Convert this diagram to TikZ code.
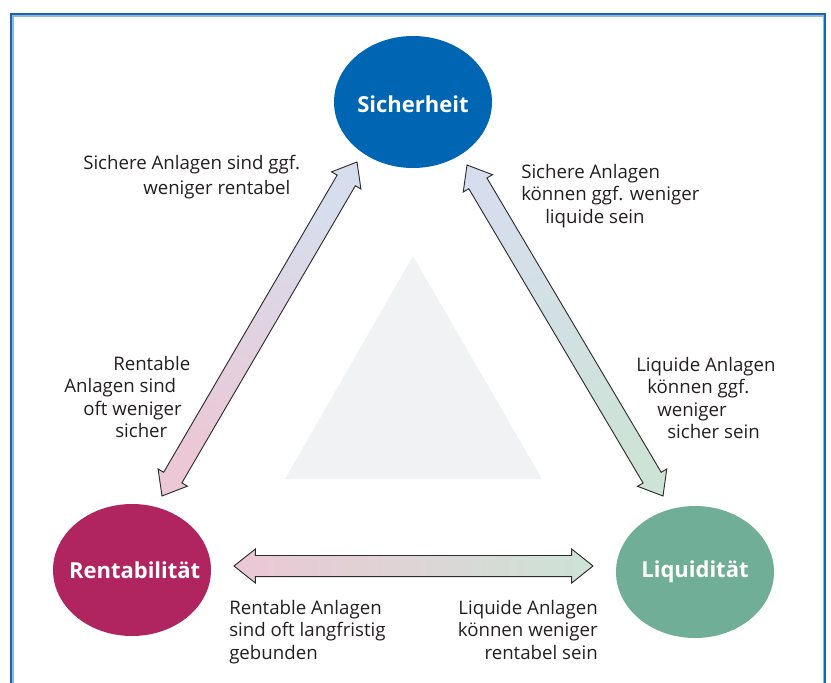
\documentclass[tikz,border=0pt]{standalone}
\usepackage{fontspec}
\setmainfont{Open Sans}
\usetikzlibrary{shapes.geometric,calc}
\definecolor{sichblue}{RGB}{0,102,179}
\definecolor{rentred}{RGB}{176,36,96}
\definecolor{liqgreen}{RGB}{112,174,152}
\definecolor{apink}{RGB}{236,199,213}
\definecolor{ablue}{RGB}{214,222,237}
\definecolor{agreen}{RGB}{205,227,214}
\definecolor{trigrey}{RGB}{241,242,244}
\definecolor{framedark}{RGB}{30,100,170}
\definecolor{framelight}{RGB}{140,185,228}
\definecolor{textgrey}{RGB}{35,31,32}
\definecolor{arrowline}{RGB}{45,45,45}
\newcommand{\arrHL}{16pt}
\newcommand{\arrHW}{12.75pt}
\newcommand{\arrSW}{7.9pt}
\newcommand{\blockarrow}[3]{%
  \draw[#1] (#2)
    -- ($(#2)!\arrHL!(#3)!\arrHW!90:(#3)$)
    -- ($(#2)!\arrHL!(#3)!\arrSW!90:(#3)$)
    -- ($(#3)!\arrHL!(#2)!\arrSW!-90:(#2)$)
    -- ($(#3)!\arrHL!(#2)!\arrHW!-90:(#2)$)
    -- (#3)
    -- ($(#3)!\arrHL!(#2)!\arrHW!90:(#2)$)
    -- ($(#3)!\arrHL!(#2)!\arrSW!90:(#2)$)
    -- ($(#2)!\arrHL!(#3)!\arrSW!-90:(#3)$)
    -- ($(#2)!\arrHL!(#3)!\arrHW!-90:(#3)$)
    -- cycle;}
\begin{document}
\begin{tikzpicture}[x=0.75pt,y=-0.75pt,
  goal/.style={ellipse, inner sep=0pt, minimum width=118.5pt, minimum height=99pt},
  goaltext/.style={inner sep=0pt, text=white, font={\fontsize{16.5}{20}\selectfont\bfseries}},
  lbl/.style={inner sep=0pt, text=textgrey, align=left,
    font={\fontsize{14}{16.75}\selectfont}},
  arrowstyle/.style={draw=arrowline, line width=0.7pt, line join=miter}]
\useasboundingbox (0,0) rectangle (831,682);
% frame
\draw[framelight, line width=1.5pt] (12.5,15.5) rectangle (823.5,720);
\draw[framedark, line width=1pt] (11,14) rectangle (825,720);
% background triangle
\fill[trigrey] (413,256) -- (542,479) -- (285,479) -- cycle;
% goals
\node[goal, fill=sichblue, label={[goaltext, yshift=-2pt]center:Sicherheit}] (sich) at (413,102) {};
\node[goal, fill=rentred, label={[goaltext, xshift=2pt]center:Rentabilität}] (rent) at (132,570) {};
\node[goal, fill=liqgreen, label={[goaltext]center:Liquidität}] (liq) at (695,572) {};
% arrow ends
\coordinate (rs1) at (162,496);
\coordinate (rs2) at (357,162);
\coordinate (ls1) at (663,496);
\coordinate (ls2) at (467,165);
\coordinate (rl1) at (234,566);
\coordinate (rl2) at (593,566);
\blockarrow{arrowstyle, top color=ablue, bottom color=apink, shading angle=-30.3}{rs1}{rs2}
\blockarrow{arrowstyle, top color=ablue, bottom color=agreen, shading angle=30.6}{ls1}{ls2}
\blockarrow{arrowstyle, left color=apink, right color=agreen}{rl1}{rl2}
% labels
\node[lbl, anchor=north west, font={\fontsize{14}{18.5}\selectfont}] (t1) at (83,155)
  {Sichere Anlagen sind ggf.\\\hspace*{45pt}weniger rentabel};
\node[lbl, anchor=north west] (t2) at (521,164)
  {Sichere Anlagen\\können ggf. weniger\\\hspace*{18pt}liquide sein};
\node[lbl, anchor=north west] (t3) at (64,356)
  {\hspace*{36.75pt}Rentable\\Anlagen sind\\\hspace*{14.25pt}oft weniger\\\hspace*{38.25pt}sicher};
\node[lbl, anchor=north west] (t4) at (636,357)
  {Liquide Anlagen\\\hspace*{8.25pt}können ggf.\\\hspace*{15.75pt}weniger\\\hspace*{23.25pt}sicher sein};
\node[lbl, anchor=north west] (t5) at (229,600)
  {Rentable Anlagen\\sind oft langfristig\\gebunden};
\node[lbl, anchor=north east, align=right] (t6) at (598,600)
  {Liquide Anlagen\\können weniger\\rentabel sein};
\end{tikzpicture}
\end{document}
